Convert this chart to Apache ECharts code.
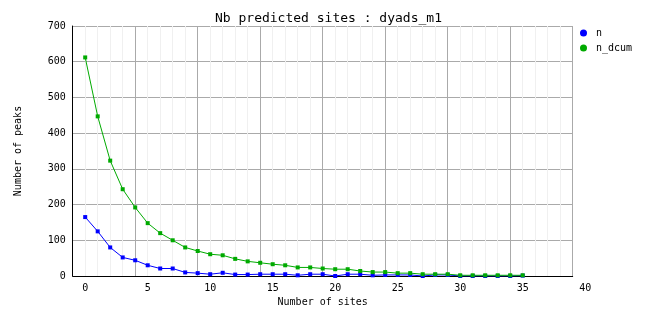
<!DOCTYPE html>
<html>
<head>
<meta charset="utf-8">
<script src="https://cdn.jsdelivr.net/npm/echarts@6/dist/echarts.min.js"></script>
<style>html,body{margin:0;padding:0;background:#fff}#c{width:662px;height:328px}</style>
</head>
<body>
<div id="c"></div>
<script>
var sites = [0,1,2,3,4,5,6,7,8,9,10,11,12,13,14,15,16,17,18,19,20,21,22,23,24,25,26,27,28,29,30,31,32,33,34,35];
var nValues = [165,125,80,52,44,30,21,21,10,8,5,9,4,4,5,5,5,2,5,5,0,5,5,2,3,3,3,0,3,3,0,0,0,0,0,1];
var nDcumValues = [612,447,323,243,192,148,120,100,80,70,61,58,48,41,37,33,30,24,24,21,19,19,14,11,11,8,8,5,5,5,2,2,2,2,2,2];
var yTicks = [0,100,200,300,400,500,600,700];
var xTickLabels = ['0','5','10','15','20','25','30','35','40'];

function pairs(xs, ys) { return xs.map(function (x, i) { return [x, ys[i]]; }); }

var FONT = 'DejaVu Sans Mono';
var chart = echarts.init(document.getElementById('c'), null, {renderer: 'canvas'});
chart.setOption({
  animation: false,
  backgroundColor: '#ffffff',
  title: {
    text: 'Nb predicted sites : dyads_m1',
    left: 215, top: 12, padding: 0,
    textStyle: {fontFamily: FONT, fontSize: 13, fontWeight: 'normal', color: '#000'}
  },
  legend: {
    orient: 'vertical', left: 580, top: 28, padding: 0,
    itemWidth: 7, itemHeight: 7, itemGap: 5, icon: 'circle',
    data: ['n', 'n_dcum'],
    textStyle: {fontFamily: FONT, fontSize: 10, color: '#000', padding: [0, 0, 0, 4]}
  },
  grid: {left: 72.7, right: 89.3, top: 26, bottom: 52, containLabel: false},
  xAxis: {
    type: 'value', min: -1, max: 39, interval: 5,
    name: 'Number of sites', nameLocation: 'middle', nameGap: 21,
    nameTextStyle: {fontFamily: FONT, fontSize: 10, color: '#000'},
    axisLine: {show: true, onZero: false, lineStyle: {color: '#000', width: 1}},
    axisTick: {show: false},
    axisLabel: {
      fontFamily: FONT, fontSize: 10, color: '#000', margin: 7,
      padding: [0, 0, 0, 25], showMinLabel: true, showMaxLabel: true,
      formatter: function (v) { return xTickLabels[Math.round((v + 1) / 5)]; }
    },
    splitLine: {show: true, lineStyle: {color: '#aaaaaa', width: 1}},
    minorTick: {show: false, splitNumber: 5},
    minorSplitLine: {show: true, lineStyle: {color: '#f0f0f0', width: 1}}
  },
  yAxis: {
    type: 'value', min: yTicks[0], max: yTicks[yTicks.length - 1], interval: 100,
    name: 'Number of peaks', nameLocation: 'middle', nameGap: 49,
    nameTextStyle: {fontFamily: FONT, fontSize: 10, color: '#000'},
    axisLine: {show: true, onZero: false, lineStyle: {color: '#000', width: 1}},
    axisTick: {show: false},
    axisLabel: {fontFamily: FONT, fontSize: 10, color: '#000', margin: 7, padding: [6, 0, 0, 0]},
    splitLine: {show: true, lineStyle: {color: '#aaaaaa', width: 1}}
  },
  series: [
    {
      name: 'n', type: 'line', data: pairs(sites, nValues),
      symbol: 'rect', symbolSize: 4, showAllSymbol: true,
      itemStyle: {color: '#0000ff'}, lineStyle: {color: '#0000ff', width: 1}
    },
    {
      name: 'n_dcum', type: 'line', data: pairs(sites, nDcumValues),
      symbol: 'rect', symbolSize: 4, showAllSymbol: true,
      itemStyle: {color: '#00aa00'}, lineStyle: {color: '#00aa00', width: 1}
    }
  ]
});
</script>
</body>
</html>
